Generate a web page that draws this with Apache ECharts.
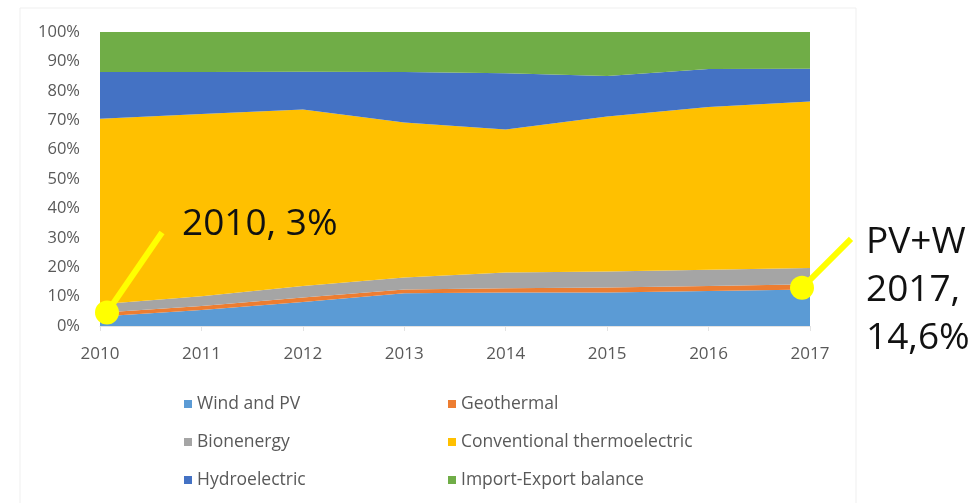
<!DOCTYPE html>
<html>
<head>
<meta charset="utf-8">
<script src="https://cdn.jsdelivr.net/npm/echarts@6/dist/echarts.min.js"></script>
<style>
html,body{margin:0;padding:0;background:#fff;}
#c{width:974px;height:503px;}
</style>
</head>
<body>
<div id="c"></div>
<script>
const years = ['2010','2011','2012','2013','2014','2015','2016','2017'];
const windPV = [3.2, 5.4, 8.2, 11.1, 11.4, 11.4, 11.9, 12.4];
const geothermal = [1.3, 1.4, 1.5, 1.3, 1.4, 1.7, 1.7, 1.8];
const bioenergy = [2.9, 3.3, 3.9, 4.1, 5.4, 5.4, 5.5, 5.5];
const thermo = [63.1, 62.0, 60.0, 52.7, 48.6, 52.8, 55.4, 56.7];
const hydro = [15.9, 14.3, 12.9, 17.2, 19.2, 13.7, 12.9, 11.1];
const importExport = [13.6, 13.6, 13.5, 13.6, 14.0, 15.0, 12.6, 12.5];
const yTicks = [0,10,20,30,40,50,60,70,80,90,100];

const names = ['Wind and PV','Geothermal','Bionenergy','Conventional thermoelectric','Hydroelectric','Import-Export balance'];
const colors = ['#5B9BD5','#ED7D31','#A5A5A5','#FFC000','#4472C4','#70AD47'];
const values = [windPV, geothermal, bioenergy, thermo, hydro, importExport];

const chart = echarts.init(document.getElementById('c'), null, {renderer:'canvas'});
const font = '"Open Sans", "DejaVu Sans", sans-serif';

const legendPos = [
  {left:179, top:390}, {left:443, top:390},
  {left:179, top:428}, {left:443, top:428},
  {left:179, top:466}, {left:443, top:466}
];
const legendOrder = [0,1,2,3,4,5];

const option = {
  animation:false,
  backgroundColor:'#fff',
  color: colors,
  grid:{left:100, right:164, top:32, bottom:177, containLabel:false},
  xAxis:{
    type:'category', data:years, boundaryGap:false,
    axisLine:{show:true, lineStyle:{color:'#e3e3e3'}},
    axisTick:{show:true, alignWithLabel:true, lineStyle:{color:'#e3e3e3'}},
    axisLabel:{color:'#595959', fontSize:17, fontFamily:font, margin:20}
  },
  yAxis:{
    type:'value', min:0, max:100, interval:10,
    axisLine:{show:false}, axisTick:{show:false},
    splitLine:{show:false},
    axisLabel:{formatter:'{value}%', color:'#595959', fontSize:16.5, fontFamily:font, margin:20}
  },
  legend: legendOrder.map((i,k)=>({
    data:[names[i]], left:legendPos[k].left, top:legendPos[k].top,
    icon:'rect', itemWidth:8, itemHeight:8, itemGap:7,
    textStyle:{color:'#595959', fontSize:17.5, fontFamily:font},
    selectedMode:false
  })),
  series: names.map((n,i)=>({
    name:n, type:'line', stack:'total', data:values[i],
    symbol:'none', showSymbol:false,
    lineStyle:{width:0},
    itemStyle:{color:colors[i]},
    areaStyle:{color:colors[i], opacity:1}
  }))
};
chart.setOption(option);

// annotations anchored to data
const p2010 = chart.convertToPixel({gridIndex:0}, [0, 4.6]);
const p2017 = chart.convertToPixel({gridIndex:0}, [7, 13.0]);
const yellow = '#FFFF00';
chart.setOption({
  graphic:[
    {type:'rect', shape:{x:20, y:8, width:836, height:510}, style:{fill:'none', stroke:'#efefef', lineWidth:1}, silent:true, z:-1},
    {type:'line', shape:{x1:p2010[0]+7, y1:p2010[1], x2:p2010[0]+62, y2:p2010[1]-80}, style:{stroke:yellow, lineWidth:6}, z:100},
    {type:'circle', shape:{cx:p2010[0]+7, cy:p2010[1], r:12}, style:{fill:yellow}, z:101},
    {type:'text', left:182, top:206, style:{text:'2010, 3%', fill:'#111', font:'37px '+font}, z:102},
    {type:'line', shape:{x1:p2017[0]-8, y1:p2017[1], x2:p2017[0]+41, y2:p2017[1]-49}, style:{stroke:yellow, lineWidth:6}, z:100},
    {type:'circle', shape:{cx:p2017[0]-8, cy:p2017[1], r:12}, style:{fill:yellow}, z:101},
    {type:'text', left:866, top:218, style:{text:'PV+W\n2017,\n14,6%', fill:'#111', font:'37px '+font, lineHeight:48}, z:102}
  ]
});
</script>
</body>
</html>
